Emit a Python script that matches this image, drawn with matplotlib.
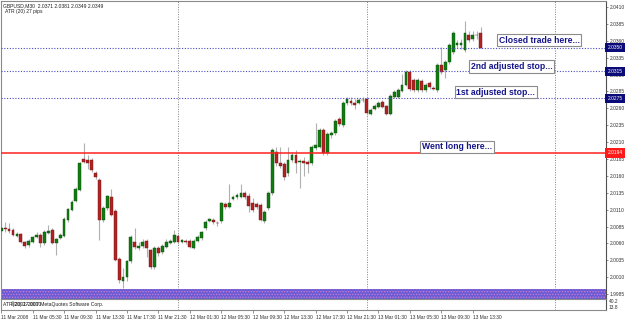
import matplotlib.pyplot as plt
import matplotlib.transforms as mtransforms
import numpy as np

plt.rcParams['font.family'] = ['Liberation Sans', 'DejaVu Sans']
plt.rcParams['hatch.linewidth'] = 0.6

# GBPUSD M30, bars from 11 Mar 2008 01:30
opens = [2.0078, 2.0083, 2.0081, 2.0080, 2.0071, 2.0074, 2.0062, 2.0058, 2.0062, 2.0070,
         2.0073, 2.0061, 2.0076, 2.0080, 2.0061, 2.0068, 2.0071, 2.0095, 2.0110, 2.0123,
         2.0139, 2.0185, 2.0184, 2.0184, 2.0164, 2.0154, 2.0095, 2.0113, 2.0129, 2.0108,
         2.0037, 2.0005, 2.0010, 2.0034, 2.0062, 2.0053, 2.0056, 2.0064, 2.0050, 2.0025,
         2.0053, 2.0047, 2.0055, 2.0061, 2.0062, 2.0071, 2.0062, 2.0064, 2.0064, 2.0053,
         2.0064, 2.0068, 2.0083, 2.0094, 2.0095, 2.0091, 2.0093, 2.0118, 2.0114, 2.0126,
         2.0129, 2.0129, 2.0135, 2.0130, 2.0120, 2.0118, 2.0117, 2.0093, 2.0113, 2.0135,
         2.0195, 2.0179, 2.0178, 2.0164, 2.0184, 2.0191, 2.0181, 2.0182, 2.0181, 2.0179,
         2.0201, 2.0203, 2.0228, 2.0194, 2.0221, 2.0223, 2.0244, 2.0235, 2.0268, 2.0271,
         2.0268, 2.0268, 2.0272, 2.0274, 2.0252, 2.0259, 2.0262, 2.0269, 2.0263, 2.0252,
         2.0277, 2.0277, 2.0286, 2.0295, 2.0314, 2.0302, 2.0287, 2.0300, 2.0287, 2.0298,
         2.0290, 2.0287, 2.0324, 2.0317, 2.0329, 2.0343, 2.0354, 2.0354, 2.0346, 2.0369,
         2.0363, 2.0368, 2.0371]
highs = [2.0090, 2.0092, 2.0090, 2.0083, 2.0077, 2.0076, 2.0064, 2.0066, 2.0071, 2.0077,
         2.0076, 2.0080, 2.0088, 2.0083, 2.0068, 2.0075, 2.0099, 2.0113, 2.0124, 2.0143,
         2.0181, 2.0209, 2.0191, 2.0187, 2.0167, 2.0157, 2.0115, 2.0132, 2.0141, 2.0111,
         2.0040, 2.0023, 2.0036, 2.0072, 2.0083, 2.0062, 2.0067, 2.0067, 2.0052, 2.0056,
         2.0056, 2.0059, 2.0067, 2.0067, 2.0080, 2.0074, 2.0067, 2.0067, 2.0067, 2.0067,
         2.0073, 2.0079, 2.0095, 2.0098, 2.0098, 2.0093, 2.0122, 2.0121, 2.0148, 2.0132,
         2.0135, 2.0148, 2.0137, 2.0135, 2.0127, 2.0121, 2.0120, 2.0110, 2.0138, 2.0201,
         2.0203, 2.0203, 2.0181, 2.0203, 2.0195, 2.0198, 2.0185, 2.0188, 2.0184, 2.0206,
         2.0238, 2.0231, 2.0231, 2.0225, 2.0226, 2.0244, 2.0247, 2.0271, 2.0277, 2.0277,
         2.0274, 2.0276, 2.0277, 2.0277, 2.0260, 2.0266, 2.0271, 2.0272, 2.0265, 2.0281,
         2.0287, 2.0290, 2.0311, 2.0317, 2.0317, 2.0305, 2.0305, 2.0303, 2.0298, 2.0301,
         2.0293, 2.0327, 2.0351, 2.0332, 2.0357, 2.0375, 2.0361, 2.0363, 2.0389, 2.0374,
         2.0374, 2.0375, 2.0381]
lows = [2.0074, 2.0077, 2.0075, 2.0071, 2.0070, 2.0061, 2.0053, 2.0055, 2.0061, 2.0068,
        2.0055, 2.0058, 2.0074, 2.0059, 2.0043, 2.0067, 2.0070, 2.0092, 2.0108, 2.0121,
        2.0138, 2.0179, 2.0170, 2.0166, 2.0155, 2.0065, 2.0092, 2.0110, 2.0100, 2.0034,
        2.0002, 1.9994, 2.0005, 2.0031, 2.0052, 2.0050, 2.0053, 2.0040, 2.0022, 2.0022,
        2.0042, 2.0044, 2.0053, 2.0059, 2.0061, 2.0059, 2.0061, 2.0059, 2.0053, 2.0052,
        2.0062, 2.0065, 2.0080, 2.0092, 2.0089, 2.0086, 2.0090, 2.0111, 2.0113, 2.0124,
        2.0126, 2.0127, 2.0126, 2.0107, 2.0107, 2.0111, 2.0093, 2.0090, 2.0110, 2.0132,
        2.0175, 2.0172, 2.0154, 2.0160, 2.0181, 2.0164, 2.0142, 2.0160, 2.0164, 2.0176,
        2.0198, 2.0201, 2.0191, 2.0191, 2.0216, 2.0221, 2.0234, 2.0232, 2.0265, 2.0265,
        2.0259, 2.0266, 2.0269, 2.0250, 2.0250, 2.0257, 2.0260, 2.0260, 2.0250, 2.0250,
        2.0275, 2.0275, 2.0284, 2.0293, 2.0286, 2.0284, 2.0284, 2.0284, 2.0284, 2.0289,
        2.0287, 2.0284, 2.0311, 2.0305, 2.0326, 2.0340, 2.0350, 2.0348, 2.0343, 2.0358,
        2.0360, 2.0362, 2.0349]
closes = [2.0083, 2.0081, 2.0079, 2.0073, 2.0074, 2.0062, 2.0056, 2.0064, 2.0070, 2.0073,
          2.0061, 2.0077, 2.0078, 2.0061, 2.0067, 2.0073, 2.0096, 2.0111, 2.0121, 2.0141,
          2.0179, 2.0181, 2.0179, 2.0169, 2.0158, 2.0095, 2.0113, 2.0130, 2.0102, 2.0036,
          2.0006, 2.0010, 2.0034, 2.0070, 2.0055, 2.0056, 2.0062, 2.0053, 2.0025, 2.0053,
          2.0046, 2.0056, 2.0062, 2.0064, 2.0073, 2.0062, 2.0065, 2.0062, 2.0055, 2.0064,
          2.0070, 2.0077, 2.0092, 2.0096, 2.0092, 2.0090, 2.0120, 2.0114, 2.0120, 2.0129,
          2.0132, 2.0135, 2.0129, 2.0116, 2.0110, 2.0114, 2.0095, 2.0107, 2.0135, 2.0198,
          2.0179, 2.0175, 2.0158, 2.0184, 2.0191, 2.0179, 2.0181, 2.0179, 2.0178, 2.0203,
          2.0206, 2.0228, 2.0194, 2.0222, 2.0223, 2.0241, 2.0237, 2.0268, 2.0274, 2.0268,
          2.0265, 2.0272, 2.0273, 2.0253, 2.0258, 2.0263, 2.0268, 2.0262, 2.0252, 2.0278,
          2.0284, 2.0287, 2.0295, 2.0314, 2.0288, 2.0287, 2.0302, 2.0287, 2.0295, 2.0292,
          2.0289, 2.0324, 2.0314, 2.0329, 2.0354, 2.0372, 2.0357, 2.0357, 2.0372, 2.0361,
          2.0369, 2.0369, 2.0349]

time_labels = ['11 Mar 2008', '11 Mar 05:30', '11 Mar 09:30', '11 Mar 13:30', '11 Mar 17:30',
               '11 Mar 21:30', '12 Mar 01:30', '12 Mar 05:30', '12 Mar 09:30', '12 Mar 13:30',
               '12 Mar 17:30', '12 Mar 21:30', '13 Mar 01:30', '13 Mar 05:30', '13 Mar 09:30',
               '13 Mar 13:30']
label_step = 8          # bars between time labels
day_breaks = [45, 93, 141]   # bar index of 00:00 each day

price_ticks = [2.0410 - 0.0025 * k for k in range(18)]
stop_levels = [2.0350, 2.0315, 2.0275]
entry_level = 2.0194

notes = ['Closed trade here...', '2nd adjusted stop...', '1st adjusted stop...', 'Went long here...']
note_x = [126.6, 119.5, 115.8, 107.0]
note_y = [2.0361, 2.0322, 2.0284, 2.0203]

n = len(opens)
x = np.arange(n)
o = np.array(opens)
h = np.array(highs)
l = np.array(lows)
c = np.array(closes)

fig = plt.figure(figsize=(6.25, 3.19), dpi=100)
ax = fig.add_axes([0.0016, 0.0627, 0.968, 0.934])
sub = fig.add_axes([0.0016, 0.0282, 0.968, 0.0345])

ax.set_xlim(-0.05, 153.9)
ax.set_ylim(1.99778, 2.04189)
sub.set_xlim(-0.05, 153.9)
sub.set_ylim(0, 1)

# day separators
for d in day_breaks:
    ax.axvline(d, color='#808080', lw=0.7, ls=(0, (1, 1.5)), zorder=1)
    sub.axvline(d, color='#808080', lw=0.7, ls=(0, (1, 1.5)), zorder=1)

# candles
ax.vlines(x, l, h, color='#b0b0b0', lw=0.8, zorder=2)
up = c >= o
body = np.maximum(np.abs(c - o), 0.00008)
ax.bar(x[up], body[up], bottom=np.minimum(o, c)[up], width=0.72,
       color='#117a11', edgecolor='#0b4f0b', lw=0.3, zorder=3)
ax.bar(x[~up], body[~up], bottom=np.minimum(o, c)[~up], width=0.72,
       color='#b22222', edgecolor='#6e1515', lw=0.3, zorder=3)

# purple band at the bottom
ax.axhspan(1.99778, 1.99926, facecolor='#6a5cd4', edgecolor='#d07ad0',
           hatch='......', lw=0, zorder=1)

# trade levels
for lv in stop_levels:
    ax.axhline(lv, color='#4a4ac0', lw=0.8, ls=(0, (1, 1.5)), zorder=4)
ax.axhline(entry_level, color='#ff2020', lw=1.1, zorder=4)

for txt, nx, ny in zip(notes, note_x, note_y):
    ax.text(nx, ny, txt, ha='left', va='center', fontsize=6.2, fontweight='bold',
            color='#15158a', zorder=6,
            bbox=dict(boxstyle='square,pad=0.2', fc='white', ec='#8c8c8c', lw=0.8))

# price scale
ax.yaxis.tick_right()
ax.set_yticks(price_ticks)
ax.set_yticklabels(['%.4f' % p for p in price_ticks], fontsize=3.5, color='#303030')
ax.tick_params(axis='y', length=1.5, width=0.5, color='#606060', pad=1)
ax.set_xticks([])

blend = mtransforms.blended_transform_factory(ax.transAxes, ax.transData)
for lv in stop_levels:
    ax.text(1.0025, lv, '%.4f' % lv, transform=blend, ha='left', va='center', fontsize=3.5,
            color='white', zorder=7, clip_on=False,
            bbox=dict(boxstyle='square,pad=0.45', fc='#0a0a78', ec='none'))
ax.text(1.0025, entry_level, '%.4f' % entry_level, transform=blend, ha='left', va='center',
        fontsize=3.5, color='white', zorder=7, clip_on=False,
        bbox=dict(boxstyle='square,pad=0.45', fc='#ff1a1a', ec='none'))

for sp in ax.spines.values():
    sp.set_color('#8a8a8a')
    sp.set_linewidth(0.8)
ax.spines['right'].set_color('#505050')

# header text
ax.text(0.004, 0.992, 'GBPUSD,M30  2.0371 2.0381 2.0349 2.0349', transform=ax.transAxes,
        ha='left', va='top', fontsize=3.6, color='#202020')
ax.text(0.007, 0.972, 'ATR (20) 27 pips', transform=ax.transAxes,
        ha='left', va='top', fontsize=3.6, color='#202020')

# sub window
sub.text(0.004, 0.5, 'ATR(20) 27.0000', transform=sub.transAxes, ha='left', va='center',
         fontsize=3.6, color='#202020')
sub.text(0.016, 0.5, '\u00a92001-2007 MetaQuotes Software Corp.', transform=sub.transAxes,
         ha='left', va='center', fontsize=3.6, color='#202020')
sub.yaxis.tick_right()
sub.set_yticks([0.78, 0.25])
sub.set_yticklabels(['40.2', '13.8'], fontsize=3.5, color='#303030')
sub.tick_params(axis='y', length=0, pad=2)
label_pos = [k * label_step for k in range(len(time_labels))]
sub.set_xticks(label_pos)
sub.set_xticklabels(time_labels, fontsize=3.5, color='#303030', ha='left')
sub.tick_params(axis='x', length=2, width=0.5, color='#606060', pad=1.5)
for sp in sub.spines.values():
    sp.set_color('#8a8a8a')
    sp.set_linewidth(0.8)
sub.spines['right'].set_color('#505050')

fig.savefig('out.png', dpi=100)
